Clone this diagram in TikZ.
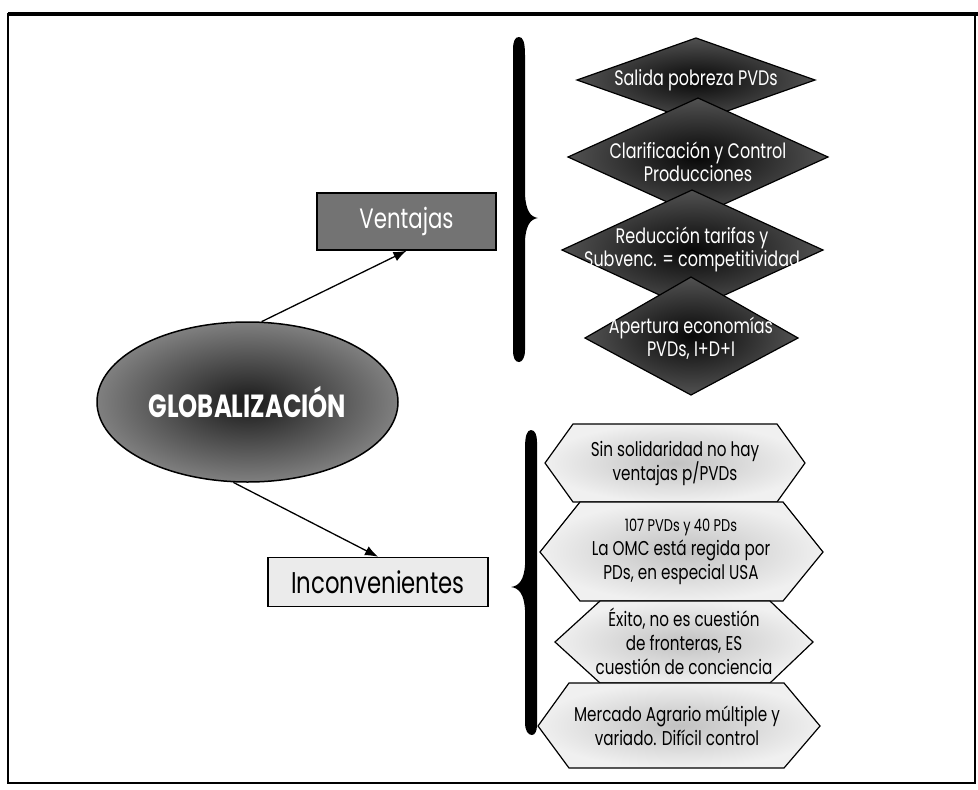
\documentclass[tikz,border=0pt]{standalone}
\usepackage{fontspec}
\setmainfont[FakeStretch=0.76]{Poppins}
\usetikzlibrary{shapes.geometric,arrows.meta}
\begin{document}
\begin{tikzpicture}[x=1pt,y=-1pt,
  dia/.style={draw=black, line width=1.2pt, inner color=black!97, outer color=black!68},
  hexa/.style={draw=black, line width=1.2pt, inner color=black!24, outer color=black!6},
  diatext/.style={text=white, align=center, font=\fontsize{21}{23}\selectfont},
  hextext/.style={text=black, align=center, font=\fontsize{20}{24}\selectfont},
  arr/.style={-{Latex[length=13pt,width=10pt]}, line width=1.3pt},
  bracefill/.style={fill=black}]
\useasboundingbox (0,0) rectangle (978,790);
% frame
\draw[line width=1.6pt] (8,14) rectangle (975,783);
\draw[line width=4pt] (8,14) -- (978,14);

% central ellipse
\node[ellipse, draw, line width=1.5pt, minimum width=301pt, minimum height=160pt,
      inner color=black!90, outer color=black!50, text=white,
      font=\bfseries\fontsize{32}{34}\selectfont] (glob) at (247.5,402) {GLOBALIZACIÓN};

% category boxes
\node[draw, line width=1.5pt, fill=black!55, minimum width=179pt, minimum height=57pt,
      text=white, font=\fontsize{28}{30}\selectfont] (vent) at (406.5,221.5) {Ventajas};
\node[draw, line width=1.5pt, fill=black!8, minimum width=220pt, minimum height=49pt,
      font=\fontsize{30}{32}\selectfont] (inc) at (378,582) {Inconvenientes};

\draw[arr] (glob.80) -- (vent.south);
\draw[arr] (glob.-100) -- (inc.north);

% braces
\fill[bracefill] (513,50) .. controls (513,41) and (515,37) .. (519,37)
  .. controls (523,37) and (525,42) .. (525,55) -- (525,195)
  .. controls (526,210) and (530,217) .. (538,218)
  .. controls (530,219) and (526,226) .. (525,240) -- (525,350)
  .. controls (525,358) and (522,362) .. (519,362)
  .. controls (515,362) and (513,358) .. (513,350) -- cycle;
\fill[bracefill] (537,442) .. controls (537,435) and (535,430) .. (531,430)
  .. controls (527,430) and (525,436) .. (525,448) -- (525,565)
  .. controls (524,580) and (519,586) .. (511,587)
  .. controls (519,588) and (524,594) .. (525,610) -- (525,722)
  .. controls (525,731) and (528,735) .. (532,735)
  .. controls (535,735) and (537,731) .. (537,725) -- cycle;

% Ventajas diamonds
\shadedraw[dia] (577,80) -- (696,38) -- (815,80) -- (696,122) -- cycle;
\node[diatext] (d1) at (696,80) {Salida pobreza PVDs};
\shadedraw[dia] (568,157) -- (698,98) -- (828,157) -- (698,216) -- cycle;
\node[diatext] (d2) at (698,162) {Clarificación y Control\\Producciones};
\shadedraw[dia] (562,250) -- (692,190) -- (823,250) -- (692,310) -- cycle;
\node[diatext] (d3) at (692,249) {Reducción tarifas y\\Subvenc. = competitividad};
\shadedraw[dia] (585,338) -- (691,277) -- (798,338) -- (691,395) -- cycle;
\node[diatext] (d4) at (691,338) {Apertura economías\\PVDs, I+D+I};

% Inconvenientes hexagons
\shadedraw[hexa] (545,463) -- (573,424) -- (777,424) -- (805,463) -- (777,502) -- (573,502) -- cycle;
\node[hextext] (h1) at (675,463) {Sin solidaridad no hay\\ventajas p/PVDs};
\shadedraw[hexa] (540,552) -- (580,502) -- (783,502) -- (823,552) -- (783,601) -- (580,601) -- cycle;
\node[hextext] (h2) at (681,552) {{\fontsize{17}{19}\selectfont 107 PVDs y 40 PDs}\\La OMC está regida por\\PDs, en especial USA};
\shadedraw[hexa] (555,642) -- (600,601) -- (770,601) -- (813,642) -- (770,683) -- (600,683) -- cycle;
\node[hextext] (h3) at (684,641) {Éxito, no es cuestión\\de fronteras, ES\\cuestión de conciencia};
\shadedraw[hexa] (538,726) -- (569,683) -- (784,683) -- (820,726) -- (784,768) -- (569,768) -- cycle;
\node[hextext] (h4) at (677,726) {Mercado Agrario múltiple y\\variado. Difícil control};
\end{tikzpicture}
\end{document}
